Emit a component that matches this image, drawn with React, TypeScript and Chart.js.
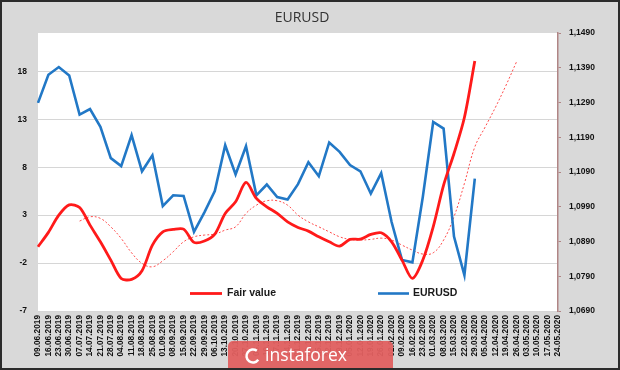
import { useEffect, useRef } from 'react';
import { Chart, registerables } from 'chart.js';

Chart.register(...registerables);

const LABELS = [
  '09.06.2019', '16.06.2019', '23.06.2019', '30.06.2019', '07.07.2019', '14.07.2019', '21.07.2019',
  '28.07.2019', '04.08.2019', '11.08.2019', '18.08.2019', '25.08.2019', '01.09.2019', '08.09.2019',
  '15.09.2019', '22.09.2019', '29.09.2019', '06.10.2019', '13.10.2019', '20.10.2019', '27.10.2019',
  '03.11.2019', '10.11.2019', '17.11.2019', '24.11.2019', '01.12.2019', '08.12.2019', '15.12.2019',
  '22.12.2019', '29.12.2019', '05.01.2020', '12.01.2020', '19.01.2020', '26.01.2020', '02.02.2020',
  '09.02.2020', '16.02.2020', '23.02.2020', '01.03.2020', '08.03.2020', '15.03.2020', '22.03.2020',
  '29.03.2020', '05.04.2020', '12.04.2020', '19.04.2020', '26.04.2020', '03.05.2020', '10.05.2020',
  '17.05.2020', '24.05.2020',
];

const FAIR_VALUE = [
  -0.3, 1.2, 3.0, 4.07, 3.8, 1.96, 0.22, -1.69, -3.6, -3.7, -2.8, -0.13, 1.26, 1.51, 1.54, 0.16,
  0.3, 1.02, 3.18, 4.39, 6.41, 4.74, 3.87, 3.18, 2.3, 1.72, 1.33, 0.74, 0.22, -0.23, 0.47, 0.5,
  0.99, 1.16, 0.22, -1.69, -3.6, -1.69, 1.78, 6.13, 9.43, 13.18, 19.08,
];

const FAIR_VALUE_AVG = [
  null, null, null, null, 2.38, 2.83, 2.66, 1.78, 0.57, -0.93, -2.03, -2.39, -1.76, -0.82, 0.22,
  0.74, 0.92, 1.02, 1.44, 1.78, 3.18, 4.04, 4.5, 4.5, 4.04, 3.0, 2.3, 1.78, 1.26, 0.74, 0.47, 0.4,
  0.47, 0.6, 0.4, -0.13, -0.65, -1.06, -0.93, 0.4, 2.83, 6.3, 10.11, 12.2, 14.28, 16.54, 18.97,
];

const EURUSD = [
  1.1289, 1.137, 1.1392, 1.1368, 1.1255, 1.1271, 1.122, 1.113, 1.1107, 1.1196, 1.1092, 1.1138,
  1.0992, 1.1023, 1.1021, 1.0918, 1.0974, 1.1035, 1.1167, 1.1083, 1.1164, 1.1023, 1.1054, 1.1018,
  1.1011, 1.1055, 1.1118, 1.1078, 1.1175, 1.1148, 1.111, 1.1092, 1.1028, 1.1087, 1.0946, 1.0837,
  1.083, 1.1018, 1.1234, 1.1215, 1.0904, 1.0793, 1.1071,
];

const LEFT_TICKS = [-7, -2, 3, 8, 13, 18];
const RIGHT_TICKS = [1.069, 1.079, 1.089, 1.099, 1.109, 1.119, 1.129, 1.139, 1.149];

const TITLE = 'EURUSD';
const WATERMARK = 'instaforex';

const FONT = "'Liberation Sans', Arial, sans-serif";

export default function App() {
  const ref = useRef<HTMLCanvasElement | null>(null);

  useEffect(() => {
    if (!ref.current) return;

    const decor = {
      id: 'decor',
      beforeDraw(chart: any) {
        const { ctx, chartArea: a, width, height } = chart;
        ctx.save();
        ctx.fillStyle = '#d9d9d9';
        ctx.fillRect(0, 0, width, height);
        ctx.fillStyle = '#ffffff';
        ctx.fillRect(a.left, a.top, a.right - a.left, a.bottom - a.top);
        ctx.restore();
      },
      afterDraw(chart: any) {
        const { ctx, width, height } = chart;
        ctx.save();
        // title
        ctx.fillStyle = '#333333';
        ctx.font = "14px 'Open Sans', sans-serif";
        ctx.textAlign = 'center';
        ctx.textBaseline = 'middle';
        ctx.fillText(TITLE, 302, 18);

        // legend
        const ds = chart.data.datasets;
        const items = [
          { x0: 190, x1: 222, tx: 227, d: ds[0] },
          { x0: 378, x1: 409, tx: 413, d: ds[1] },
        ];
        ctx.textAlign = 'left';
        ctx.font = `bold 10.5px ${FONT}`;
        items.forEach((it) => {
          ctx.strokeStyle = it.d.borderColor;
          ctx.lineWidth = it.d.borderWidth;
          ctx.beginPath();
          ctx.moveTo(it.x0, 293.5);
          ctx.lineTo(it.x1, 293.5);
          ctx.stroke();
          ctx.fillStyle = '#1a1a1a';
          ctx.fillText(it.d.label, it.tx, 293.5);
        });

        // watermark
        ctx.fillStyle = 'rgba(226, 96, 96, 0.95)';
        ctx.beginPath();
        (ctx as any).roundRect(228, 341, 165, 40, 5);
        ctx.fill();
        ctx.strokeStyle = '#ffffff';
        ctx.lineWidth = 2.5;
        ctx.beginPath();
        ctx.arc(253, 356, 6.5, Math.PI * 0.2, Math.PI * 1.7);
        ctx.stroke();
        ctx.fillStyle = '#ffffff';
        ctx.font = "17.5px 'Open Sans', sans-serif";
        ctx.textBaseline = 'alphabetic';
        ctx.fillText(WATERMARK, 265, 361);

        // frame
        ctx.strokeStyle = '#2b2b2b';
        ctx.lineWidth = 2;
        ctx.strokeRect(1, 1, width - 2, height - 2);
        ctx.restore();
      },
    };

    const chart = new Chart(ref.current, {
      type: 'line',
      data: {
        labels: LABELS,
        datasets: [
          {
            label: 'Fair value',
            data: FAIR_VALUE,
            yAxisID: 'y',
            borderColor: '#ff1a1a',
            borderWidth: 2.8,
            pointRadius: 0,
            tension: 0.3,
            fill: false,
          },
          {
            label: 'EURUSD',
            data: EURUSD,
            yAxisID: 'y1',
            borderColor: '#2278c6',
            borderWidth: 2.6,
            pointRadius: 0,
            tension: 0,
            fill: false,
          },
          {
            label: 'Fair value (avg)',
            data: FAIR_VALUE_AVG,
            yAxisID: 'y',
            borderColor: '#ff4d4d',
            borderWidth: 1,
            borderDash: [2, 2],
            pointRadius: 0,
            tension: 0.4,
            fill: false,
          },
        ],
      },
      options: {
        responsive: false,
        devicePixelRatio: 1,
        animation: false,
        layout: { padding: { top: 33, left: 0, right: 0, bottom: 0 } },
        plugins: {
          legend: { display: false },
          title: { display: false },
          tooltip: { enabled: false },
        },
        scales: {
          x: {
            type: 'category',
            offset: false,
            grid: { display: false, drawTicks: false },
            border: { display: false },
            ticks: {
              autoSkip: false,
              maxRotation: 90,
              minRotation: 90,
              padding: 4,
              color: '#111111',
              font: { family: FONT, size: 8.3, weight: 'bold' },
            },
            afterFit: (s: any) => {
              s.height = 59;
            },
          },
          y: {
            position: 'left',
            min: -7,
            max: 22,
            grid: { color: '#d6d6d6', lineWidth: 1, drawTicks: false },
            border: { display: false },
            ticks: {
              padding: 11,
              color: '#111111',
              font: { family: FONT, size: 8.5, weight: 'bold' },
            },
            afterBuildTicks: (s: any) => {
              s.ticks = LEFT_TICKS.map((v) => ({ value: v }));
            },
            afterFit: (s: any) => {
              s.width = 38;
            },
          },
          y1: {
            position: 'right',
            min: 1.069,
            max: 1.149,
            grid: { drawOnChartArea: false, drawTicks: true, tickLength: 3, color: '#b08585' },
            border: { display: true, color: '#b08585', width: 1.5 },
            ticks: {
              padding: 8,
              color: '#111111',
              font: { family: FONT, size: 8.5, weight: 'bold' },
              callback: (v: any) => Number(v).toFixed(4).replace('.', ','),
            },
            afterBuildTicks: (s: any) => {
              s.ticks = RIGHT_TICKS.map((v) => ({ value: v }));
            },
            afterFit: (s: any) => {
              s.width = 62;
            },
          },
        },
      },
      plugins: [decor],
    } as any);

    return () => chart.destroy();
  }, []);

  return (
    <div style={{ position: 'fixed', left: 0, top: 0, width: 620, height: 370 }}>
      <canvas ref={ref} width={620} height={370} style={{ display: 'block' }} />
    </div>
  );
}
